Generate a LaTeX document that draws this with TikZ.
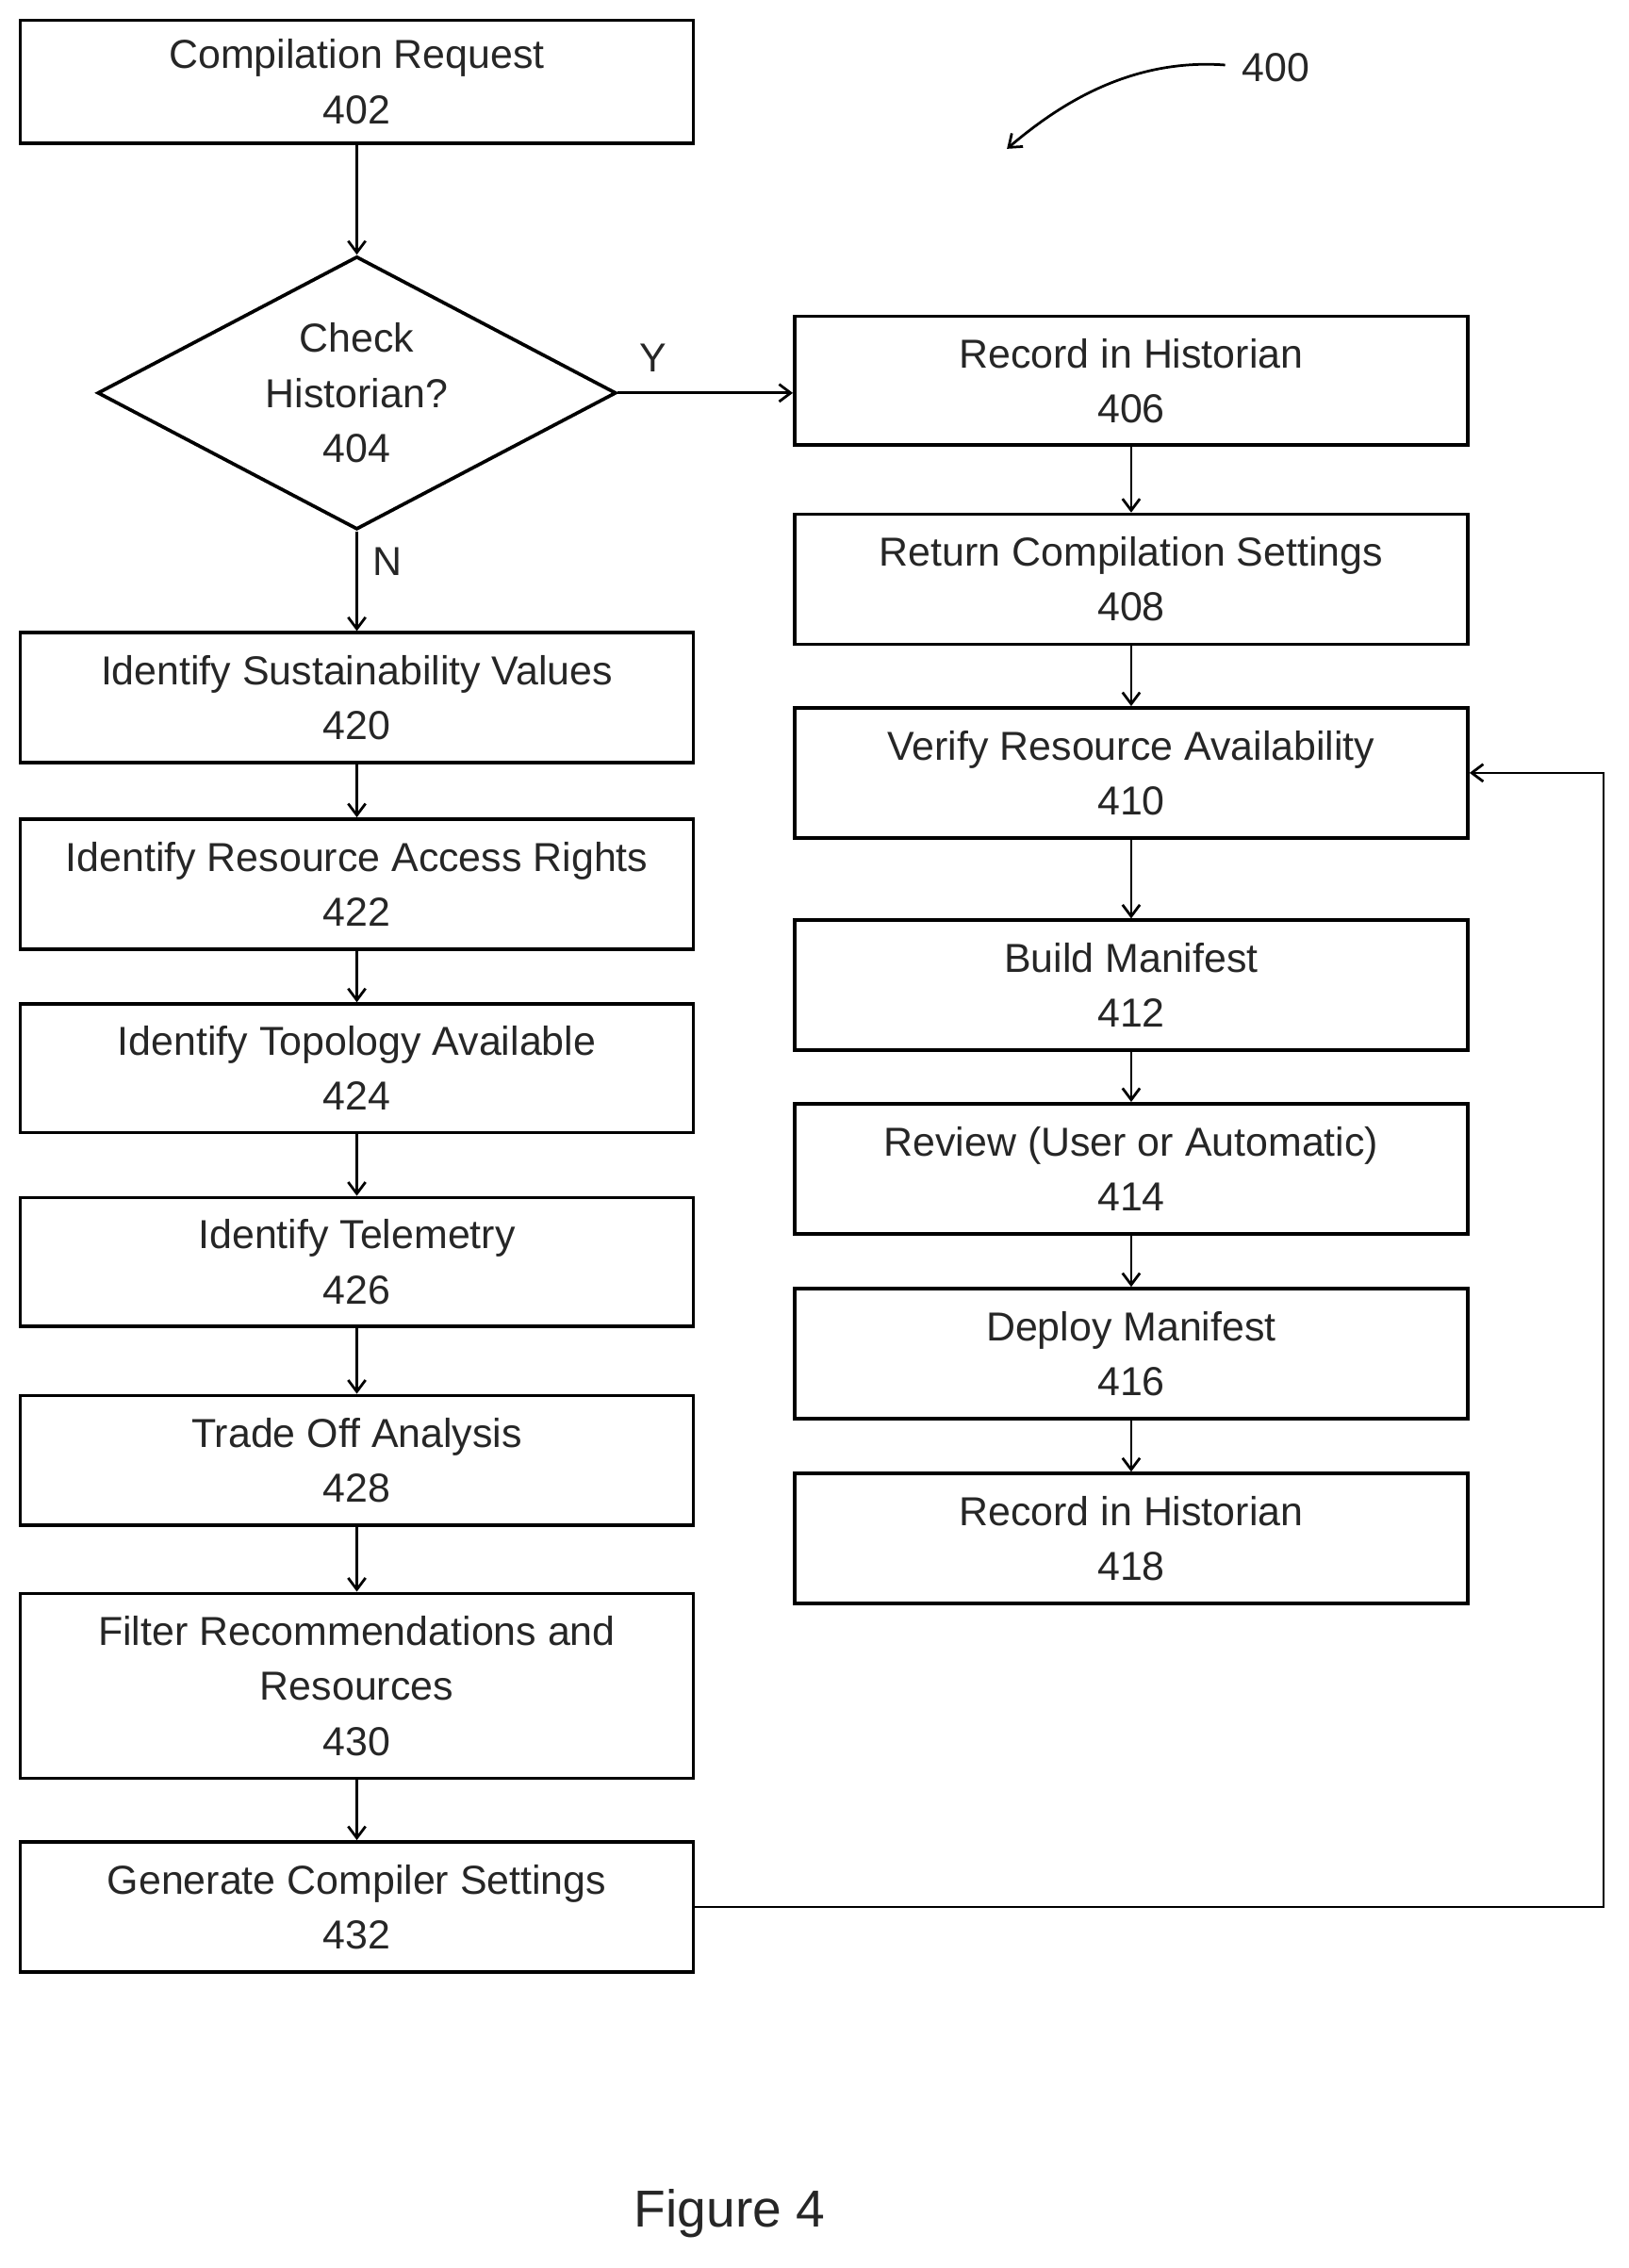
\documentclass[tikz,border=0pt]{standalone}
\usepackage{fontspec}
\setmainfont{Liberation Sans}
\usetikzlibrary{shapes.geometric,arrows.meta}
\begin{document}
\begin{tikzpicture}[x=0.5pt,y=-0.5pt,
 box/.style={draw,line width=1.2pt,inner sep=0pt,align=center,font=\fontsize{14}{19}\selectfont,text=black!85},
 arr/.style={-{Straight Barb[length=4pt,width=6pt]},line width=0.9pt},
 lbl/.style={font=\fontsize{14}{16}\selectfont,text=black!85}]
\useasboundingbox (0,0) rectangle (1127,1570);
\newcommand{\bx}[6]{\node[box,minimum width=#3*1pt-#2*1pt,minimum height=#5*1pt-#4*1pt] (#1) at ({(#2+#3)/2},{(#4+#5)/2}) {#6};}
% scale: coords in px, box sizes in pt = px*0.5
\def\B#1#2#3#4#5#6{\node[box,minimum width={(#3-#2)*0.5pt},minimum height={(#5-#4)*0.5pt}] (#1) at ({(#2+#3)/2},{(#4+#5)/2}) {#6};}
\B{n402}{14}{480}{14}{99}{Compilation Request\\402}
\node[box,diamond,aspect=1.9,minimum width=179.5pt,minimum height=94.5pt] (n404) at (247,272) {Check\\Historian?\\404};
\B{n420}{14}{480}{438}{528}{Identify Sustainability Values\\420}
\B{n422}{14}{480}{567}{657}{Identify Resource Access Rights\\422}
\B{n424}{14}{480}{695}{784}{Identify Topology Available\\424}
\B{n426}{14}{480}{829}{918}{Identify Telemetry\\426}
\B{n428}{14}{480}{966}{1056}{Trade Off Analysis\\428}
\B{n430}{14}{480}{1103}{1231}{Filter Recommendations and\\Resources\\430}
\B{n432}{14}{480}{1275}{1365}{Generate Compiler Settings\\432}
\B{n406}{550}{1016}{219}{308}{Record in Historian\\406}
\B{n408}{550}{1016}{356}{446}{Return Compilation Settings\\408}
\B{n410}{550}{1016}{490}{580}{Verify Resource Availability\\410}
\B{n412}{550}{1016}{637}{727}{Build Manifest\\412}
\B{n414}{550}{1016}{764}{854}{Review (User or Automatic)\\414}
\B{n416}{550}{1016}{892}{982}{Deploy Manifest\\416}
\B{n418}{550}{1016}{1020}{1110}{Record in Historian\\418}
\draw[arr] (n402) -- (n404);
\draw[arr] (n404.east) -- (n404.east -| n406.west);
\node[lbl] (y) at (452,248) {Y};
\draw[arr] (n404) -- (n420);
\node[lbl] (nn) at (268,389) {N};
\foreach \a/\b in {n420/n422,n422/n424,n424/n426,n426/n428,n428/n430,n430/n432,n406/n408,n408/n410,n410/n412,n412/n414,n414/n416,n416/n418}
 \draw[arr] (\a) -- (\b);
\coordinate (c1) at (1110,1320);
\coordinate (c2) at (1110,535);
\draw[arr] (n432.east) -- (c1) -- (c2) -- (n410.east);
\node[lbl] (n400) at (883,47) {400};
\coordinate (a0) at (848,45);
\draw[arr] (a0) .. controls (780,40) and (730,75) .. (697,103);
\node[font=\fontsize{18}{20}\selectfont,text=black!85] (fig) at (505,1532) {Figure 4};
\end{tikzpicture}
\end{document}
